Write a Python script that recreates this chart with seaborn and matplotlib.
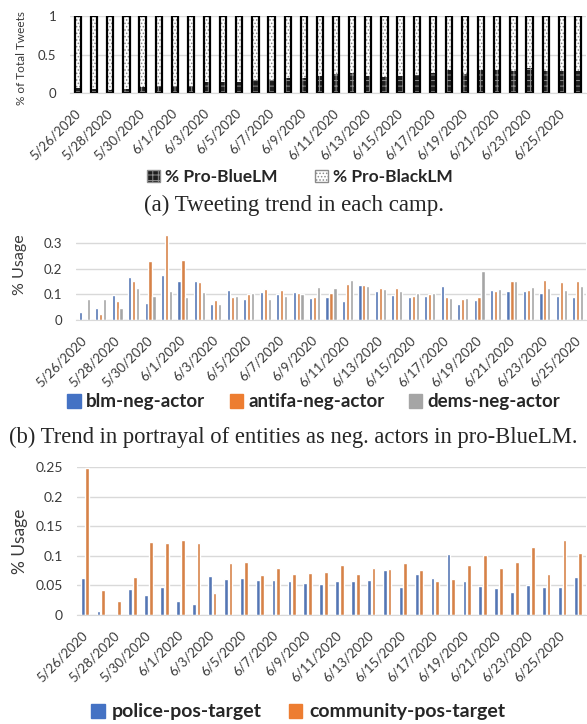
import numpy as np
import pandas as pd
import matplotlib
matplotlib.use('Agg')
import matplotlib.pyplot as plt
import matplotlib.transforms as mtrans
from matplotlib.patches import Patch
import seaborn as sns

sns.set_style('white')
plt.rcParams['font.family'] = ['Lato', 'DejaVu Sans']
plt.rcParams['hatch.linewidth'] = 0.7

# categories
dates_a = [f'{d.month}/{d.day}/{d.year}' for d in pd.date_range('2020-05-26', '2020-06-26')]
dates_b = dates_a[:31]
dates_c = dates_a

# (a) share of tweets per camp
pro_blue = [0.065, 0.05, 0.045, 0.05, 0.075, 0.095, 0.095, 0.095, 0.14, 0.14, 0.14,
            0.175, 0.175, 0.19, 0.2, 0.22, 0.25, 0.26, 0.225, 0.21, 0.22, 0.24, 0.26,
            0.295, 0.25, 0.295, 0.305, 0.29, 0.325, 0.29, 0.285, 0.29]
pro_black = [0.935, 0.95, 0.955, 0.95, 0.925, 0.905, 0.905, 0.905, 0.86, 0.86, 0.86,
             0.825, 0.825, 0.81, 0.8, 0.78, 0.75, 0.74, 0.775, 0.79, 0.78, 0.76, 0.74,
             0.705, 0.75, 0.705, 0.695, 0.71, 0.675, 0.71, 0.715, 0.71]

# (b) neg-actor usage in pro-BlueLM
blm_neg = [0.03, 0.048, 0.098, 0.166, 0.065, 0.173, 0.153, 0.15, 0.064, 0.115, 0.08,
           0.11, 0.102, 0.11, 0.085, 0.091, 0.074, 0.137, 0.113, 0.099, 0.09, 0.095,
           0.132, 0.063, 0.078, 0.116, 0.112, 0.112, 0.106, 0.094, 0.091]
antifa_neg = [0.0, 0.023, 0.072, 0.153, 0.231, 0.332, 0.235, 0.146, 0.076, 0.09, 0.102,
              0.121, 0.116, 0.106, 0.091, 0.106, 0.141, 0.136, 0.125, 0.124, 0.095, 0.102,
              0.091, 0.081, 0.089, 0.113, 0.151, 0.117, 0.156, 0.149, 0.151]
dems_neg = [0.082, 0.08, 0.047, 0.126, 0.094, 0.112, 0.09, 0.11, 0.061, 0.095, 0.104,
            0.083, 0.094, 0.102, 0.129, 0.126, 0.156, 0.132, 0.12, 0.113, 0.106, 0.106,
            0.086, 0.086, 0.192, 0.121, 0.153, 0.129, 0.126, 0.115, 0.133]

# (c) pos-target usage
police_pos = [0.062, 0.006, 0.0, 0.044, 0.034, 0.048, 0.023, 0.018, 0.066, 0.061, 0.063,
              0.059, 0.059, 0.057, 0.054, 0.052, 0.057, 0.057, 0.059, 0.076, 0.047, 0.07,
              0.063, 0.103, 0.058, 0.049, 0.046, 0.039, 0.051, 0.047, 0.048, 0.064]
community_pos = [0.249, 0.043, 0.024, 0.064, 0.124, 0.122, 0.127, 0.122, 0.037, 0.087, 0.09,
                 0.068, 0.079, 0.069, 0.071, 0.072, 0.084, 0.07, 0.08, 0.077, 0.088, 0.076,
                 0.058, 0.06, 0.084, 0.102, 0.08, 0.089, 0.115, 0.07, 0.126, 0.104]

BLUE, ORANGE, GRAY = '#4472C4', '#ED7D31', '#A5A5A5'
GRID = '#d9d9d9'
TXT = '#3a3a3a'
W, H = 587, 724

fig = plt.figure(figsize=(W / 100, H / 100), dpi=100)


def px_axes(l, t, r, b):
    return fig.add_axes([l / W, 1 - b / H, (r - l) / W, (b - t) / H])


def excel_style(ax, labels, ysize=9.5):
    n = len(labels)
    sns.despine(ax=ax, left=True)
    ax.spines['bottom'].set_color(GRID)
    ax.grid(axis='y', color=GRID, lw=1)
    ax.set_axisbelow(True)
    ax.set_xlim(-0.5, n - 0.5)
    ax.set_xticks(range(0, n, 2))
    ax.set_xticks(np.arange(-0.5, n, 2), minor=True)
    ax.tick_params(axis='x', which='major', length=0, pad=10)
    ax.tick_params(axis='x', which='minor', length=5, color=GRID, width=1)
    ax.tick_params(axis='y', length=0, labelsize=ysize, labelcolor=TXT, pad=10)
    ax.set_xticklabels(labels[::2], rotation=45, ha='right', rotation_mode='anchor',
                       fontsize=9.5, color=TXT)
    off = mtrans.ScaledTranslation(-0.04, 0, fig.dpi_scale_trans)
    for lab in ax.get_xticklabels():
        lab.set_transform(lab.get_transform() + off)
    ax.set_xlabel('')


# ---------- (a) ----------
ax_a = px_axes(70, 16, 586, 93)
total = [b + k for b, k in zip(pro_blue, pro_black)]
sns.barplot(x=dates_a, y=total, color='white', width=0.38, ax=ax_a, order=dates_a)
n0 = len(ax_a.patches)
sns.barplot(x=dates_a, y=pro_blue, color='#1e1e1e', width=0.38, ax=ax_a, order=dates_a)
for i, p in enumerate(ax_a.patches):
    if i < n0:
        p.set_facecolor('white'); p.set_hatch('.....'); p.set_edgecolor('#8a8a8a')
    else:
        p.set_facecolor('#1e1e1e'); p.set_hatch('+++'); p.set_edgecolor('#8f8f8f')
    p.set_linewidth(0)
sns.barplot(x=dates_a, y=total, color='black', fill=False, width=0.38, linewidth=1.6,
            ax=ax_a, order=dates_a)
ax_a.set_ylim(0, 1)
ax_a.set_yticks([0, 0.5, 1])
ax_a.set_yticklabels(['0', '0.5', '1'])
excel_style(ax_a, dates_a)
ax_a.set_ylabel('% of Total Tweets', fontsize=8.5, color=TXT)
ax_a.yaxis.set_label_coords(-0.083, 0.45)

leg_a = [Patch(facecolor='#1e1e1e', edgecolor='#8f8f8f', hatch='+++', label='% Pro-BlueLM'),
         Patch(facecolor='white', edgecolor='#8a8a8a', hatch='.....', label='% Pro-BlackLM')]
fig.legend(handles=leg_a, loc='center', bbox_to_anchor=(300 / W, 1 - 177 / H), ncol=2,
           frameon=False, prop={'weight': 'bold', 'size': 12.5}, handlelength=0.7,
           handleheight=0.7, columnspacing=2.2, handletextpad=0.3)
fig.text(0.5, 1 - 205 / H, '(a) Tweeting trend in each camp.', ha='center', va='center',
         family='Liberation Serif', fontsize=16.5)

# ---------- (b) ----------
ax_b = px_axes(76, 232, 586, 320)
df_b = pd.DataFrame({
    'date': dates_b * 3,
    'val': blm_neg + antifa_neg + dems_neg,
    'series': ['blm-neg-actor'] * 31 + ['antifa-neg-actor'] * 31 + ['dems-neg-actor'] * 31,
})
sns.barplot(data=df_b, x='date', y='val', hue='series', order=dates_b,
            palette=[BLUE, ORANGE, GRAY], width=0.72, gap=0.2, ax=ax_b, legend=False)
ax_b.set_ylim(0, 0.342)
ax_b.set_yticks([0, 0.1, 0.2, 0.3])
ax_b.set_yticklabels(['0', '0.1', '0.2', '0.3'])
excel_style(ax_b, dates_b)
ax_b.set_ylabel('% Usage', fontsize=11.5, color=TXT)
ax_b.yaxis.set_label_coords(-0.096, 0.63)

leg_b = [Patch(color=BLUE, label='blm-neg-actor'), Patch(color=ORANGE, label='antifa-neg-actor'),
         Patch(color=GRAY, label='dems-neg-actor')]
fig.legend(handles=leg_b, loc='center', bbox_to_anchor=(314 / W, 1 - 402 / H), ncol=3,
           frameon=False, prop={'weight': 'bold', 'size': 13.5}, handlelength=0.7,
           handleheight=0.7, columnspacing=1.3, handletextpad=0.3)
fig.text(0.5, 1 - 437 / H, '(b) Trend in portrayal of entities as neg. actors in pro-BlueLM.',
         ha='center', va='center', family='Liberation Serif', fontsize=16.3)

# ---------- (c) ----------
ax_c = px_axes(77, 467, 586, 615)
df_c = pd.DataFrame({
    'date': dates_c * 2,
    'val': police_pos + community_pos,
    'series': ['police-pos-target'] * 32 + ['community-pos-target'] * 32,
})
sns.barplot(data=df_c, x='date', y='val', hue='series', order=dates_c,
            palette=[BLUE, ORANGE], width=0.58, gap=0.18, ax=ax_c, legend=False)
ax_c.set_ylim(0, 0.25)
ax_c.set_yticks([0, 0.05, 0.1, 0.15, 0.2, 0.25])
ax_c.set_yticklabels(['0', '0.05', '0.1', '0.15', '0.2', '0.25'])
excel_style(ax_c, dates_c, ysize=10)
ax_c.set_ylabel('% Usage', fontsize=12.5, color=TXT)
ax_c.yaxis.set_label_coords(-0.096, 0.5)

leg_c = [Patch(color=BLUE, label='police-pos-target'),
         Patch(color=ORANGE, label='community-pos-target')]
fig.legend(handles=leg_c, loc='center', bbox_to_anchor=(298 / W, 1 - 712 / H), ncol=2,
           frameon=False, prop={'weight': 'bold', 'size': 14}, handlelength=0.7,
           handleheight=0.7, columnspacing=1.4, handletextpad=0.35)

fig.savefig('out.png', dpi=100)
